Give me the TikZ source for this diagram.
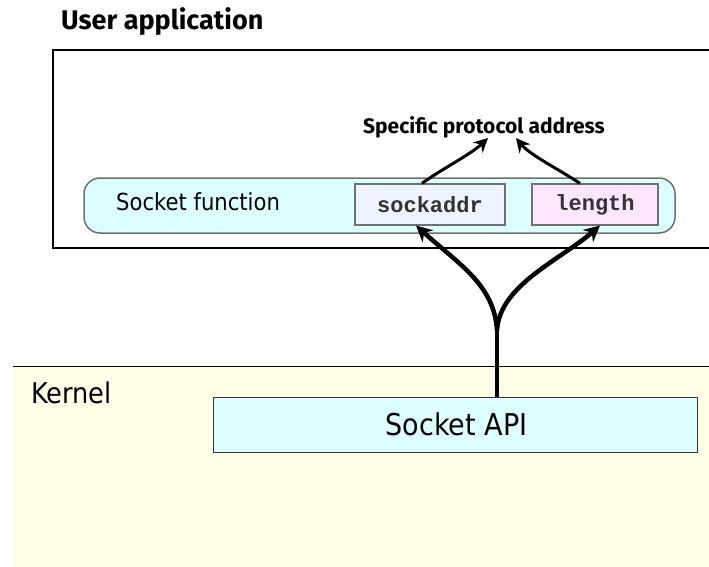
\documentclass[tikz,border=0pt]{standalone}
\usepackage{fontspec}
\setmainfont{DejaVu Sans}
\newfontfamily\comicfont{Fira Sans}
\newfontfamily\tahfont{DejaVu Sans Condensed}
\newfontfamily\codefont{Liberation Mono}
\usetikzlibrary{arrows.meta}
\definecolor{kernelbg}{HTML}{FFFEE6}
\definecolor{cyanbg}{HTML}{DDFFFF}
\definecolor{sockbg}{HTML}{EEF4FF}
\definecolor{lenbg}{HTML}{FFE6FF}
\definecolor{edgegray}{HTML}{707070}
\tikzset{
  title/.style={font=\comicfont\bfseries\fontsize{27}{30}\selectfont, anchor=base west, inner sep=0pt},
  plain/.style={font=\tahfont\fontsize{23.5}{26}\selectfont, inner sep=0pt},
  fieldbox/.style={draw=edgegray, line width=1.2pt, minimum height=41pt, inner sep=0pt,
                   font=\codefont\bfseries\fontsize{22}{24}\selectfont, text=black!80},
  thickarrow/.style={line width=4.5pt, -{Stealth[length=16pt,width=16pt]}},
  thinarrow/.style={line width=3pt, -{Stealth[length=14pt,width=14pt]}},
}
\begin{document}
\begin{tikzpicture}[x=1pt,y=-1pt]
\useasboundingbox (0,0) rectangle (709,567);
\clip (0,0) rectangle (709,567);
% user application
\node[title] (utitle) at (61,30) {User application};
\node[draw=black, line width=2pt, minimum width=680pt, minimum height=198pt, inner sep=0pt] (ubox) at (393,149) {};
% kernel
\node[fill=kernelbg, minimum width=700pt, minimum height=205pt, inner sep=0pt, anchor=north west] (kbox) at (13,366) {};
\draw[line width=1pt] (kbox.north west) -- (kbox.north east);
\node[plain, anchor=base west, font=\tahfont\fontsize{28.5}{30}\selectfont] (ktext) at (31,403) {Kernel};
\node[draw=black!80, fill=cyanbg, line width=1pt, minimum width=484pt, minimum height=55pt, inner sep=0pt] (api) at (455,424.5) {};
\node[plain, anchor=base, font=\tahfont\fontsize{30}{32}\selectfont] (apitext) at (456.5,435) {Socket API};
% socket function
\node[draw=edgegray, fill=cyanbg, line width=1.5pt, rounded corners=16pt, minimum width=591pt, minimum height=55pt, inner sep=0pt] (sfunc) at (379.5,205.5) {};
\node[plain, anchor=base west] (sftext) at (116,210) {Socket function};
\node[fieldbox, fill=sockbg, minimum width=150pt] (sock) at (430,204.5) {sockaddr};
\node[fieldbox, fill=lenbg, minimum width=126pt] (len) at (595,204.5) {length};
% address
\node[font=\comicfont\bfseries\fontsize{21}{24}\selectfont, inner sep=0pt] (addr) at (484,127) {Specific protocol address};
\coordinate (aL) at (488,138);
\coordinate (aR) at (516,138);
\draw[thinarrow] ([xshift=-8pt]sock.north) .. controls (440,170) and (470,155) .. (aL);
\draw[thinarrow] ([xshift=-15pt]len.north) .. controls (560,170) and (530,155) .. (aR);
% thick branching arrows
\coordinate (split) at (497,330);
\draw[line width=4.5pt] (api.north -| split) -- (split);
\draw[thickarrow] (split) .. controls (494,285) and (460,265) .. ([xshift=-14pt]sock.south);
\draw[thickarrow] (split) .. controls (500,285) and (560,260) .. ([xshift=5pt]len.south);
\end{tikzpicture}
\end{document}
